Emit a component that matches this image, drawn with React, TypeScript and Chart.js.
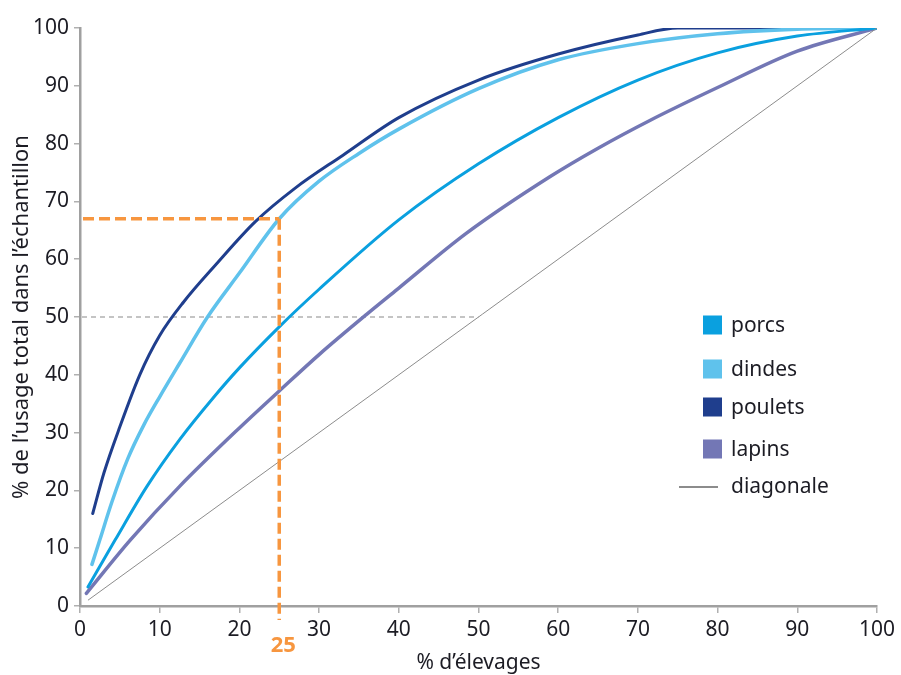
import React, { useEffect, useRef } from "react";
import { Chart, registerables } from "chart.js";

Chart.register(...registerables);

// ---- Data ----
const seriesNames = ["porcs", "dindes", "poulets", "lapins"];
const diagonalName = "diagonale";

const porcsX = [1, 4.4, 8.4, 12.5, 16.7, 20, 25, 30, 40, 50, 60, 70, 80, 90, 100];
const porcsY = [3.3, 11.4, 20.7, 28.8, 36, 41.2, 48.3, 54.8, 66.8, 76.5, 84.5, 91, 95.7, 98.6, 100];

const dindesX = [1.5, 2.5, 4, 6, 8, 10, 12.5, 16, 20, 25, 30, 35, 40, 50, 60, 70, 80, 90, 100];
const dindesY = [7.2, 11.5, 18, 25.5, 31.3, 36.2, 42, 50, 57.6, 67, 73.5, 78.3, 82.5, 89.5, 94.5, 97.3, 99, 99.8, 100];

const pouletsX = [1.6, 3, 5, 7.5, 10, 13, 17, 22, 27, 33, 40, 50, 60, 70, 75, 100];
const pouletsY = [16, 23, 31, 40, 46.8, 52.6, 59, 66.5, 72.3, 78, 84.5, 91, 95.5, 98.8, 100, 100];

const lapinsX = [0.8, 6.3, 12.5, 20, 25, 30, 36, 40, 48.5, 59, 65, 71.5, 80, 90, 100];
const lapinsY = [2.2, 11.4, 20.7, 30.8, 37.2, 43.5, 50.5, 55, 64.5, 74.3, 79.2, 84, 89.7, 96, 100];

const diagonalX = [1, 100];
const diagonalY = [1, 100];

const xTicks = [0, 10, 20, 30, 40, 50, 60, 70, 80, 90, 100];
const yTicks = [0, 10, 20, 30, 40, 50, 60, 70, 80, 90, 100];

// reference marks
const halfLevel = 50; // gray dashed level
const halfLevelEndX = 50;
const refX = 25; // orange marker
const refY = 67;
const refLabel = "25";

const xTitle = "% d’élevages";
const yTitle = "% de l’usage total dans l’échantillon";

const colors = ["#0aa0df", "#5fc2ec", "#1f3e8d", "#7377b5"];
const diagColor = "#8c8c8c";
const orange = "#f7963f";
const textColor = "#1c1c24";
const FONT = "'Noto Sans', 'Open Sans', sans-serif";

const zip = (xs: number[], ys: number[]) => xs.map((x, i) => ({ x, y: ys[i] }));

export default function App() {
  const ref = useRef<HTMLCanvasElement | null>(null);

  useEffect(() => {
    if (!ref.current) return;

    const refLines = {
      id: "refLines",
      beforeDatasetsDraw(chart: any) {
        const { ctx, scales } = chart;
        const xs = scales.x, ys = scales.y;
        ctx.save();
        ctx.strokeStyle = "#8a8a8a";
        ctx.lineWidth = 1.2;
        ctx.setLineDash([5, 4]);
        ctx.beginPath();
        const yh = ys.getPixelForValue(halfLevel);
        ctx.moveTo(xs.getPixelForValue(0) + 2, yh);
        ctx.lineTo(xs.getPixelForValue(halfLevelEndX), yh);
        ctx.stroke();
        ctx.restore();
      },
      afterDatasetsDraw(chart: any) {
        const { ctx, scales } = chart;
        const xs = scales.x, ys = scales.y;
        const px = xs.getPixelForValue(refX);
        const py = ys.getPixelForValue(refY);
        const bottom = ys.getPixelForValue(0) + 14;
        ctx.save();
        ctx.strokeStyle = orange;
        ctx.lineWidth = 3.5;
        ctx.setLineDash([11, 5]);
        ctx.beginPath();
        ctx.moveTo(xs.getPixelForValue(0) + 3, py);
        ctx.lineTo(px, py);
        ctx.stroke();
        ctx.beginPath();
        ctx.moveTo(px, py);
        ctx.lineTo(px, bottom);
        ctx.stroke();
        ctx.setLineDash([]);
        ctx.fillStyle = orange;
        ctx.font = `bold 22px ${FONT}`;
        ctx.textAlign = "center";
        ctx.textBaseline = "middle";
        ctx.fillText(refLabel, px + 4, ys.getPixelForValue(0) + 40);
        ctx.restore();
      },
    };

    const legendPlugin = {
      id: "customLegend",
      afterDraw(chart: any) {
        const { ctx } = chart;
        const boxX = 703;
        const textX = 731;
        const rowsY = [325, 369, 407, 449];
        ctx.save();
        ctx.font = `21px ${FONT}`;
        ctx.textAlign = "left";
        ctx.textBaseline = "middle";
        seriesNames.forEach((name, i) => {
          ctx.fillStyle = colors[i];
          ctx.fillRect(boxX, rowsY[i] - 9.5, 19, 19);
          ctx.fillStyle = textColor;
          ctx.fillText(name, textX, rowsY[i] + 1);
        });
        const dy = 487;
        ctx.strokeStyle = "#666";
        ctx.lineWidth = 1.3;
        ctx.beginPath();
        ctx.moveTo(679, dy);
        ctx.lineTo(718, dy);
        ctx.stroke();
        ctx.fillStyle = textColor;
        ctx.fillText(diagonalName, textX, dy);
        ctx.restore();
      },
    };

    const seriesData = [
      zip(porcsX, porcsY),
      zip(dindesX, dindesY),
      zip(pouletsX, pouletsY),
      zip(lapinsX, lapinsY),
    ];
    const widths = [3, 3.5, 3, 3.5];

    const datasets: any[] = [
      {
        label: diagonalName,
        data: zip(diagonalX, diagonalY),
        borderColor: diagColor,
        borderWidth: 1,
        pointRadius: 0,
        tension: 0,
      },
      ...seriesNames.map((name, i) => ({
        label: name,
        data: seriesData[i],
        borderColor: colors[i],
        borderWidth: widths[i],
        pointRadius: 0,
        cubicInterpolationMode: "monotone",
        borderCapStyle: "round",
      })),
    ];

    const chart = new Chart(ref.current, {
      type: "line",
      data: { datasets },
      plugins: [refLines, legendPlugin],
      options: {
        responsive: false,
        animation: false,
        layout: { padding: { top: 28, right: 24, left: 0, bottom: 0 } },
        plugins: {
          legend: { display: false },
          tooltip: { enabled: false },
        },
        scales: {
          x: {
            type: "linear",
            min: 0,
            max: 100,
            afterBuildTicks: (s: any) => {
              s.ticks = xTicks.map((v) => ({ value: v }));
            },
            afterFit: (s: any) => {
              s.height = 69;
            },
            ticks: {
              color: textColor,
              font: { family: FONT, size: 21 },
              padding: 4,
              maxRotation: 0,
            },
            grid: {
              drawOnChartArea: false,
              drawTicks: true,
              tickLength: 7,
              color: "#b0b0b0",
              lineWidth: 1.5,
            },
            border: { color: "#a0a0a0", width: 2.5 },
            title: {
              display: true,
              text: xTitle,
              color: textColor,
              font: { family: FONT, size: 21 },
              padding: { top: 0, bottom: -1 },
            },
          },
          y: {
            type: "linear",
            min: 0,
            max: 100,
            afterBuildTicks: (s: any) => {
              s.ticks = yTicks.map((v) => ({ value: v }));
            },
            afterFit: (s: any) => {
              s.width = 80;
            },
            ticks: {
              color: textColor,
              font: { family: FONT, size: 21 },
              padding: 5,
            },
            grid: {
              drawOnChartArea: false,
              drawTicks: true,
              tickLength: 6,
              color: "#b0b0b0",
              lineWidth: 1.5,
            },
            border: { color: "#a0a0a0", width: 2.5 },
            title: {
              display: true,
              text: yTitle,
              color: textColor,
              font: { family: FONT, size: 22 },
              padding: { top: 9, bottom: 0 },
            },
          },
        },
      },
    });

    return () => chart.destroy();
  }, []);

  return (
    <div style={{ position: "absolute", left: 0, top: 0, width: 901, height: 675, background: "#fff" }}>
      <canvas ref={ref} width={901} height={675} />
    </div>
  );
}
